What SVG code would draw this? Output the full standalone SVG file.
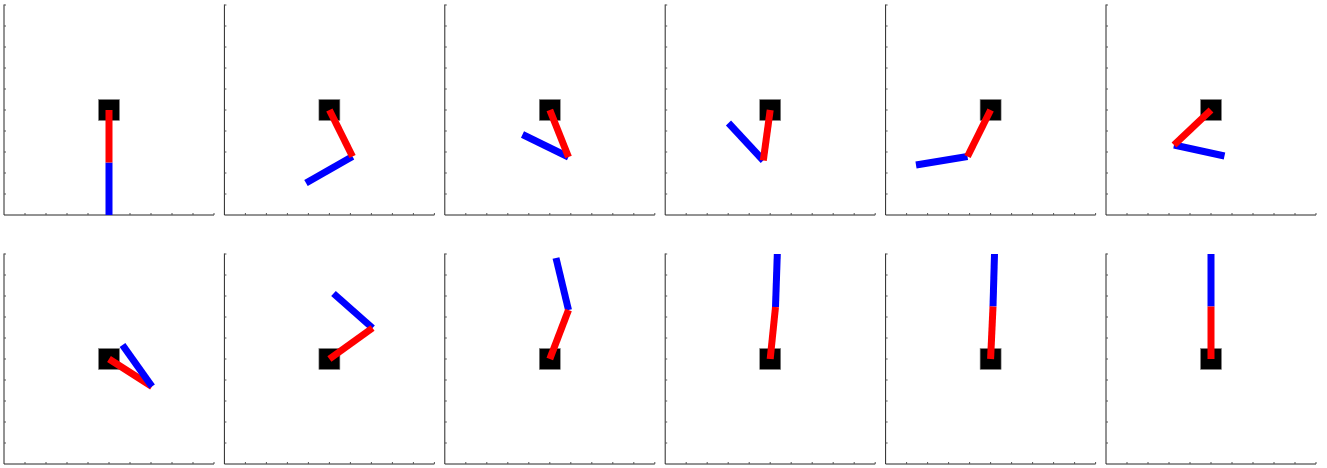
<svg xmlns="http://www.w3.org/2000/svg" width="1327" height="468" viewBox="0 0 1327 468">
<style>
.ax{fill:none;stroke:#262626;stroke-width:1}
.tk{fill:none;stroke:#555;stroke-width:1}
.cart{fill:#000;stroke:#888;stroke-width:0.6}
.l1{stroke:#ff0000;stroke-width:7;stroke-linecap:butt;fill:none}
.l2{stroke:#0000ff;stroke-width:7;stroke-linecap:butt;fill:none}
</style>
<defs>
<g id="axes">
<path class="ax" d="M0,-210.5V0H210"/>
<path class="tk" d="M21,0v-2M42,0v-2M63,0v-2M84,0v-2M105,0v-2M126,0v-2M147,0v-2M168,0v-2M189,0v-2M210,0v-2M0,-21h2M0,-42h2M0,-63h2M0,-84h2M0,-105h2M0,-126h2M0,-147h2M0,-168h2M0,-189h2M0,-210h2"/>
</g>
<rect id="cartshape" class="cart" x="-10.5" y="-10.5" width="21" height="21"/>
</defs>
<g id="panel-1"><use href="#axes" x="4" y="215"/><use href="#cartshape" x="109" y="110"/>
<line class="l2" x1="109" y1="162.5" x2="109" y2="215"/><line class="l1" x1="109" y1="110" x2="109" y2="162.5"/></g>
<g id="panel-2"><use href="#axes" x="224.4" y="215"/><use href="#cartshape" x="329.4" y="110"/>
<line class="l2" x1="352.5" y1="156.5" x2="306" y2="183"/><line class="l1" x1="329.4" y1="110" x2="352.5" y2="156.5"/></g>
<g id="panel-3"><use href="#axes" x="444.8" y="215"/><use href="#cartshape" x="549.8" y="110"/>
<line class="l2" x1="568.5" y1="157" x2="522.5" y2="134.5"/><line class="l1" x1="549.8" y1="110" x2="568.5" y2="157"/></g>
<g id="panel-4"><use href="#axes" x="665.2" y="215"/><use href="#cartshape" x="770.2" y="110"/>
<line class="l2" x1="763.3" y1="160.5" x2="728.5" y2="123"/><line class="l1" x1="770.2" y1="110" x2="763.3" y2="160.5"/></g>
<g id="panel-5"><use href="#axes" x="885.6" y="215"/><use href="#cartshape" x="990.6" y="110"/>
<line class="l2" x1="967.5" y1="156.5" x2="916" y2="165"/><line class="l1" x1="990.6" y1="110" x2="967.5" y2="156.5"/></g>
<g id="panel-6"><use href="#axes" x="1106" y="215"/><use href="#cartshape" x="1211" y="110"/>
<line class="l2" x1="1174" y1="145" x2="1224.5" y2="156"/><line class="l1" x1="1211" y1="110" x2="1174" y2="145"/></g>
<g id="panel-7"><use href="#axes" x="4" y="464"/><use href="#cartshape" x="109" y="359"/>
<line class="l1" x1="109" y1="359" x2="152" y2="386.5"/><line class="l2" x1="152" y1="386.5" x2="122.5" y2="345"/></g>
<g id="panel-8"><use href="#axes" x="224.4" y="464"/><use href="#cartshape" x="329.4" y="359"/>
<line class="l2" x1="372.5" y1="328" x2="333.5" y2="293.5"/><line class="l1" x1="329.4" y1="359" x2="372.5" y2="328"/></g>
<g id="panel-9"><use href="#axes" x="444.8" y="464"/><use href="#cartshape" x="549.8" y="359"/>
<line class="l2" x1="568.5" y1="310" x2="556" y2="258"/><line class="l1" x1="549.8" y1="359" x2="568.5" y2="310"/></g>
<g id="panel-10"><use href="#axes" x="665.2" y="464"/><use href="#cartshape" x="770.2" y="359"/>
<line class="l2" x1="775.5" y1="307" x2="777.3" y2="254"/><line class="l1" x1="770.2" y1="359" x2="775.5" y2="307"/></g>
<g id="panel-11"><use href="#axes" x="885.6" y="464"/><use href="#cartshape" x="990.6" y="359"/>
<line class="l2" x1="993" y1="306.5" x2="994.5" y2="254"/><line class="l1" x1="990.6" y1="359" x2="993" y2="306.5"/></g>
<g id="panel-12"><use href="#axes" x="1106" y="464"/><use href="#cartshape" x="1211" y="359"/>
<line class="l2" x1="1211" y1="306.5" x2="1211" y2="254"/><line class="l1" x1="1211" y1="359" x2="1211" y2="306.5"/></g>
</svg>
